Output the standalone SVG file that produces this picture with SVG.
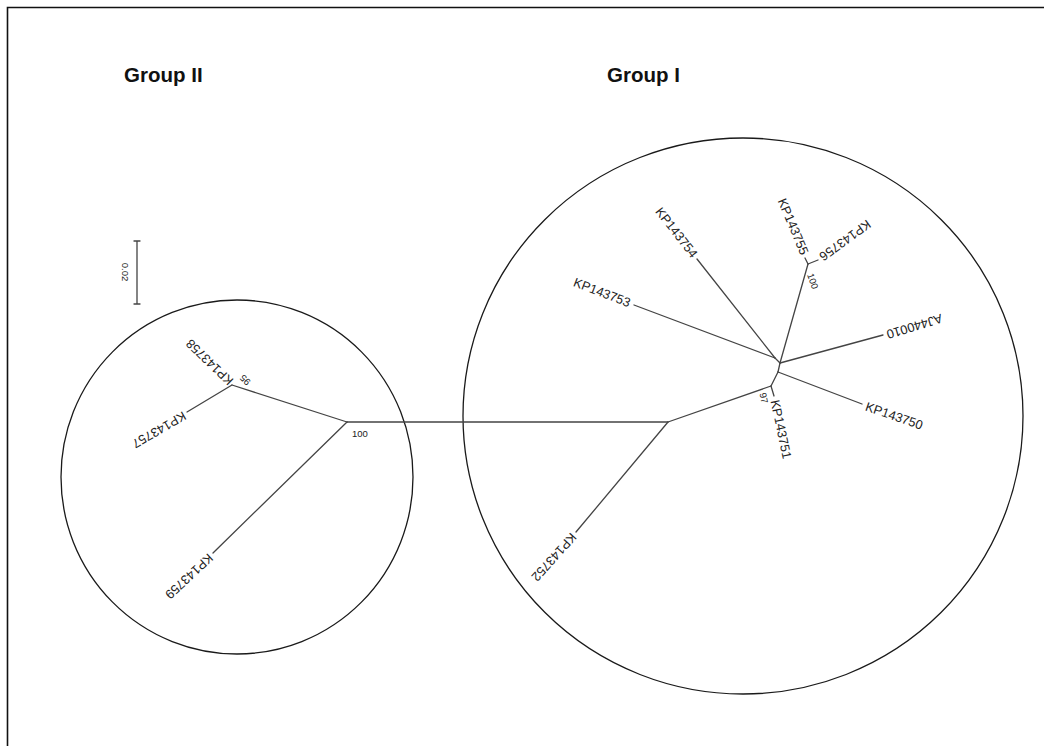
<svg xmlns="http://www.w3.org/2000/svg" width="1044" height="746" viewBox="0 0 1044 746">
<style>
.br{stroke:#444;stroke-width:1.3;fill:none;stroke-linecap:round}
.cir{stroke:#1a1a1a;stroke-width:1.3;fill:none}
.lab{font-family:"Liberation Sans",Arial,sans-serif;font-size:12.8px;fill:#222;dominant-baseline:central}
.bs{font-family:"Liberation Sans",Arial,sans-serif;font-size:9.5px;fill:#222;dominant-baseline:central}
.grp{font-family:"Liberation Sans",Arial,sans-serif;font-size:20.5px;font-weight:bold;fill:#111}
</style>
<rect x="0" y="0" width="1044" height="746" fill="#fff"/>
<g id="frame">
<path d="M7.5 746 V7.5 H1044" stroke="#111" stroke-width="1.6" fill="none"/>
</g>
<g id="group-labels">
<text class="grp" x="124" y="82">Group II</text>
<text class="grp" x="607" y="82">Group I</text>
</g>
<g id="circles">
<ellipse id="circle-group2" class="cir" cx="237" cy="477" rx="176" ry="177"/>
<ellipse id="circle-group1" class="cir" cx="743" cy="416" rx="280" ry="278"/>
</g>
<g id="scalebar">
<path class="br" d="M137 241 V304 M134 241 H140 M134 304 H140" stroke-width="1.8"/>
<text class="bs" transform="translate(125,272) rotate(90)" text-anchor="middle">0.02</text>
</g>
<g id="connectors">
<path class="br" d="M347 422 H668"/>
<path class="br" d="M347 422 L232 385"/>
<path class="br" d="M232 385 L187 412"/>
<path class="br" d="M347 422 L213 553"/>
<path class="br" d="M668 422 L576 532"/>
<path class="br" d="M668 422 L771 386"/>
<path class="br" d="M771 386 L774 396"/>
<path class="br" d="M771 386 L778 372"/>
<path class="br" d="M778 372 L862 404"/>
<path class="br" d="M778 372 L780 363"/>
<path class="br" d="M780 363 L775 358"/>
<path class="br" d="M775 358 L634 305"/>
<path class="br" d="M775 358 L697 259"/>
<path class="br" d="M780 363 L883 335"/>
<path class="br" d="M780 363 L808 264"/>
<path class="br" d="M808 264 L805 258"/>
<path class="br" d="M808 264 L818 260"/>
</g>
<g id="node-KP143758"><text class="lab" transform="translate(231,383) rotate(224)">KP143758</text></g>
<g id="node-KP143757"><text class="lab" transform="translate(185,415) rotate(150)">KP143757</text></g>
<g id="node-KP143759"><text class="lab" transform="translate(211,556) rotate(137)">KP143759</text></g>
<g id="node-KP143752"><text class="lab" transform="translate(574,535) rotate(132)">KP143752</text></g>
<g id="node-KP143753"><text class="lab" text-anchor="end" transform="translate(630,303) rotate(21)">KP143753</text></g>
<g id="node-KP143754"><text class="lab" text-anchor="end" transform="translate(695,256) rotate(52)">KP143754</text></g>
<g id="node-KP143755"><text class="lab" text-anchor="end" transform="translate(805,254) rotate(67)">KP143755</text></g>
<g id="node-KP143756"><text class="lab" text-anchor="end" transform="translate(821,258) rotate(144)">KP143756</text></g>
<g id="node-AJ440010"><text class="lab" text-anchor="end" transform="translate(887,335) rotate(163)">AJ440010</text></g>
<g id="node-KP143750"><text class="lab" transform="translate(866,406) rotate(19)">KP143750</text></g>
<g id="node-KP143751"><text class="lab" transform="translate(775,400) rotate(78)">KP143751</text></g>
<g id="bootstrap">
<text class="bs" x="352" y="433">100</text>
<text class="bs" text-anchor="middle" transform="translate(245,380) rotate(224)">95</text>
<text class="bs" text-anchor="middle" transform="translate(813,281) rotate(70)">100</text>
<text class="bs" text-anchor="middle" transform="translate(764,398) rotate(78)">97</text>
</g>
</svg>
